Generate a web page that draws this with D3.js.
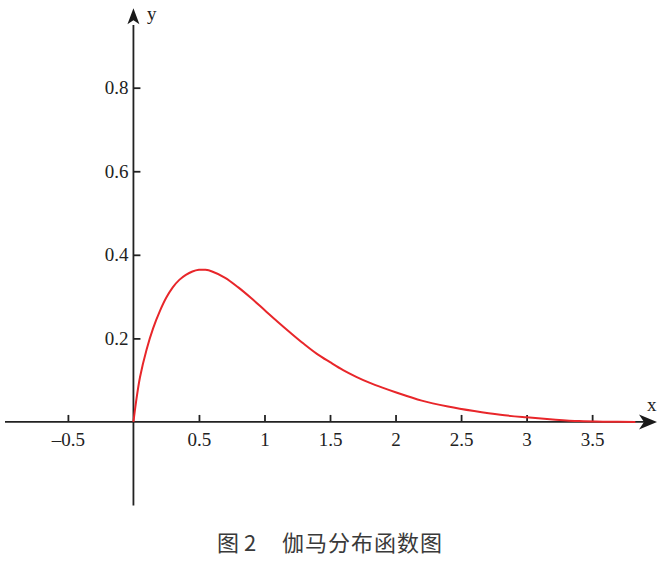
<!DOCTYPE html>
<html>
<head>
<meta charset="utf-8">
<script src="https://cdn.jsdelivr.net/npm/d3@7"></script>
<style>
  body { margin: 0; background: #fff; }
</style>
</head>
<body>
<div id="chart"></div>
<script>
// curve (x, density)
const curveX = [0, 0.02, 0.05, 0.1, 0.15, 0.2, 0.25, 0.3, 0.35, 0.4, 0.45, 0.5, 0.55, 0.6, 0.7, 0.8, 0.9,
                1.0, 1.1, 1.2, 1.3, 1.4, 1.5, 1.6, 1.7, 1.8, 1.9, 2.0, 2.2, 2.4, 2.6, 2.8, 3.0, 3.2, 3.4, 3.6, 3.83];
const curveY = [0, 0.048, 0.107, 0.173, 0.224, 0.264, 0.297, 0.322, 0.34, 0.352, 0.36, 0.364, 0.364, 0.36, 0.345, 0.322, 0.296,
                0.268, 0.24, 0.213, 0.187, 0.163, 0.143, 0.124, 0.108, 0.094, 0.082, 0.071, 0.051, 0.037, 0.026, 0.017, 0.011, 0.006, 0.002, 0.0005, 0];
const xTicks = [-0.5, 0.5, 1, 1.5, 2, 2.5, 3, 3.5];
const yTicks = [0.2, 0.4, 0.6, 0.8];
const caption1 = '图 2';
const caption2 = '伽马分布函数图';

const W = 663, H = 564;
const serif = '"Liberation Serif", "Times New Roman", serif';

const svg = d3.select('#chart')
    .append('svg')
    .attr('width', W)
    .attr('height', H);

const x = d3.scaleLinear().domain([-0.98, 3.995]).range([5, 657]);
const y = d3.scaleLinear().domain([-0.2, 0.99]).range([505.5, 8.3]);

const fmt = v => (v < 0 ? '\u2013' : '') + Math.abs(v);

// x axis (ticks pointing up, no domain line)
const gx = svg.append('g')
    .attr('transform', `translate(0,${y(0)})`)
    .call(d3.axisBottom(x).tickValues(xTicks).tickFormat(fmt).tickSizeInner(-7).tickSizeOuter(0).tickPadding(11));
gx.select('.domain').remove();

// y axis (ticks pointing right, labels on the left)
const gy = svg.append('g')
    .attr('transform', `translate(${x(0)},0)`)
    .call(d3.axisLeft(y).tickValues(yTicks).tickFormat(fmt).tickSizeInner(-7).tickSizeOuter(0).tickPadding(5));
gy.select('.domain').remove();

[gx, gy].forEach(g => {
    g.attr('font-family', serif).attr('font-size', 19);
    g.selectAll('.tick line').attr('stroke', '#222').attr('stroke-width', 1.8);
    g.selectAll('.tick text').attr('fill', '#222');
});

// axis lines
svg.append('line')
    .attr('x1', x(-0.98)).attr('x2', x(3.9))
    .attr('y1', y(0)).attr('y2', y(0))
    .attr('stroke', '#222').attr('stroke-width', 1.8);
svg.append('line')
    .attr('x1', x(0)).attr('x2', x(0))
    .attr('y1', y(-0.2)).attr('y2', y(0.95))
    .attr('stroke', '#222').attr('stroke-width', 1.8);

// the curve
const pts = curveX.map((d, i) => [d, curveY[i]]);
svg.append('path')
    .datum(pts)
    .attr('fill', 'none')
    .attr('stroke', '#e8262a')
    .attr('stroke-width', 2)
    .attr('d', d3.line().x(d => x(d[0])).y(d => y(d[1])).curve(d3.curveCatmullRom.alpha(0.5)));

// arrowheads
const tipX = x(3.995), tipY = y(0.99);
const ox = x(0), oy = y(0);
svg.append('path')
    .attr('d', `M${tipX},${oy} L${tipX - 18},${oy - 7.5} L${tipX - 13},${oy} L${tipX - 18},${oy + 7.5} Z`)
    .attr('fill', '#1a1a1a');
svg.append('path')
    .attr('d', `M${ox},${tipY} L${ox - 6},${tipY + 16} L${ox},${tipY + 12} L${ox + 6},${tipY + 16} Z`)
    .attr('fill', '#1a1a1a');

// axis names
svg.append('text')
    .attr('x', 647).attr('y', 411)
    .style('font-family', serif).style('font-size', '19px').style('fill', '#222')
    .text('x');
svg.append('text')
    .attr('x', 147).attr('y', 20)
    .style('font-family', serif).style('font-size', '19px').style('fill', '#222')
    .text('y');

// caption
svg.append('text')
    .attr('x', 217).attr('y', 551)
    .style('font-family', '"Noto Sans CJK SC", sans-serif').style('font-size', '22px').style('fill', '#3a3a3a')
    .text(caption1);
svg.append('text')
    .attr('x', 282).attr('y', 551)
    .style('font-family', '"Noto Sans CJK SC", sans-serif').style('font-size', '22px').style('fill', '#3a3a3a')
    .style('letter-spacing', '1px')
    .text(caption2);
</script>
</body>
</html>
